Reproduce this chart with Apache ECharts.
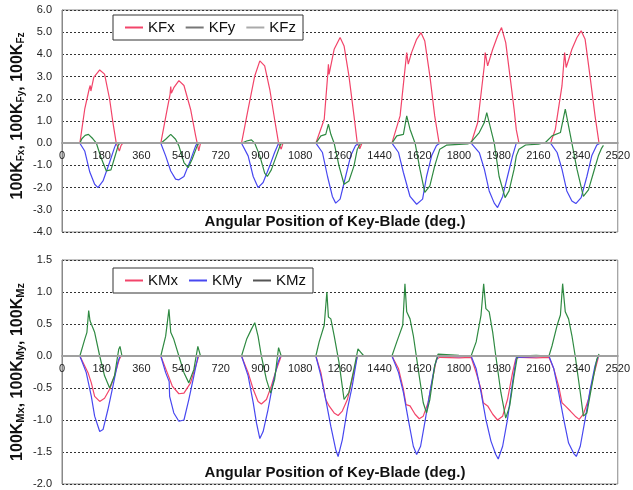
<!DOCTYPE html>
<html><head><meta charset="utf-8">
<script src="https://cdn.jsdelivr.net/npm/echarts@6/dist/echarts.min.js"></script>
<style>html,body{margin:0;padding:0;background:#fff}#c{width:633px;height:490px}</style>
</head><body><div id="c"></div>
<script>
// x ticks (deg)
const xTicks = [0,180,360,540,720,900,1080,1260,1440,1620,1800,1980,2160,2340,2520];
const topYTicks = [-4,-3,-2,-1,0,1,2,3,4,5,6];
const botYTicks = [-2,-1.5,-1,-0.5,0,0.5,1,1.5];
const topNames = ['KFx','KFy','KFz'];
const botNames = ['KMx','KMy','KMz'];

// Top chart: [deg, value]
const KFx = [[81,0],[103,1.53],[123,2.43],[128,2.6],[131,2.35],[144,2.96],[171,3.3],[193,3.11],[216,1.98],[231,0.93],[246,0],[260,-0.35],[268,-0.1],[276,0],
 [448,0],[477,1.53],[490,2.2],[493,2.55],[496,2.25],[507,2.5],[530,2.82],[553,2.6],[583,1.53],[606,0.33],[613,0],[620,-0.35],[628,0],
 [814,0],[844,1.53],[874,3.03],[897,3.71],[919,3.48],[942,2.43],[964,1.08],[982,0],[994,-0.27],[1002,0],
 [1151,0],[1189,1.08],[1205,3.1],[1208,3.55],[1211,3.1],[1234,4.23],[1261,4.76],[1279,4.38],[1301,3.03],[1324,1.23],[1339,0],[1350,-0.25],[1360,0],
 [1496,0],[1533,1.23],[1563,4.08],[1570,3.56],[1585,4.08],[1608,4.68],[1628,4.98],[1645,4.6],[1668,3.03],[1690,1.23],[1710,0],
 [1855,0],[1885,0.93],[1915,3.5],[1919,4.08],[1930,3.48],[1953,4.23],[1975,4.83],[1993,5.21],[2012,4.53],[2035,2.73],[2050,1.53],[2060,0.6],[2072,0],
 [2215,0],[2237,0.63],[2267,2.58],[2279,4.08],[2286,3.41],[2312,4.23],[2335,4.76],[2354,5.06],[2372,4.68],[2394,3.03],[2417,1.23],[2435,0]];
const KFy = [[81,0],[103,-0.35],[126,-1.3],[148,-1.85],[163,-2.0],[186,-1.7],[216,-0.86],[238,-0.2],[246,0],
 [448,0],[470,-0.57],[493,-1.25],[515,-1.62],[530,-1.65],[553,-1.5],[583,-0.75],[606,-0.12],[613,0],
 [814,0],[844,-0.57],[867,-1.5],[889,-2.0],[912,-1.77],[942,-1.02],[964,-0.42],[982,0],
 [1151,0],[1181,-0.42],[1204,-1.5],[1226,-2.4],[1241,-2.7],[1261,-2.52],[1286,-1.5],[1309,-0.57],[1331,-0.1],[1346,0],
 [1496,0],[1526,-0.42],[1548,-1.32],[1578,-2.4],[1608,-2.75],[1635,-2.52],[1653,-1.5],[1676,-0.57],[1698,-0.1],[1713,0],
 [1855,0],[1892,-0.42],[1915,-1.17],[1937,-2.15],[1960,-2.7],[1975,-2.9],[1998,-2.4],[2020,-1.5],[2043,-0.57],[2060,0],
 [2215,0],[2245,-0.42],[2267,-1.17],[2289,-2.15],[2312,-2.6],[2330,-2.72],[2354,-2.45],[2380,-1.5],[2402,-0.57],[2425,-0.08],[2440,0]];
const KFz = [[81,0],[90,0.2],[105,0.35],[120,0.4],[129,0.45],[140,0.2],[156,0],[175,-0.6],[201,-1.25],[222,-1.2],[240,-0.6],[255,-0.1],[262,0],
 [448,0],[470,0.18],[493,0.4],[515,0.18],[530,-0.12],[553,-0.87],[572,-1.1],[590,-0.72],[613,-0.12],[620,0],
 [814,0],[837,0.1],[859,0.15],[874,0],[897,-0.57],[919,-1.35],[931,-1.5],[949,-1.2],[972,-0.57],[991,-0.05],[1002,0],
 [1151,0],[1174,0.33],[1196,0.4],[1208,0.86],[1219,0.4],[1234,0],[1256,-1.02],[1279,-1.85],[1301,-1.7],[1324,-1.02],[1339,-0.27],[1354,0],
 [1496,0],[1518,0.33],[1548,0.4],[1563,1.23],[1578,0.63],[1601,0],[1623,-1.17],[1645,-2.22],[1668,-1.92],[1690,-1.02],[1713,-0.27],[1743,-0.09],[1800,-0.05],[1840,-0.03],
 [1855,0.05],[1892,0.48],[1915,0.93],[1926,1.38],[1937,0.93],[1960,0],[1982,-1.5],[2009,-2.45],[2027,-2.15],[2050,-1.17],[2060,-0.57],[2072,-0.27],[2102,-0.08],[2160,-0.04],[2192,0.03],
 [2222,0.33],[2260,0.48],[2282,1.53],[2294,0.93],[2312,0],[2335,-1.17],[2364,-2.4],[2387,-2.1],[2410,-1.32],[2432,-0.57],[2447,-0.22],[2455,-0.1]];

// Bottom chart: [deg, value]
const KMx = [[81,0],[118,-0.26],[133,-0.42],[148,-0.63],[171,-0.71],[193,-0.66],[216,-0.52],[238,-0.31],[260,-0.05],[268,0],
 [448,0],[477,-0.26],[500,-0.47],[530,-0.59],[553,-0.58],[583,-0.42],[606,-0.16],[620,0],
 [814,0],[844,-0.26],[867,-0.52],[889,-0.71],[904,-0.75],[927,-0.68],[949,-0.47],[972,-0.21],[994,0],
 [1151,0],[1174,-0.26],[1196,-0.68],[1211,-0.78],[1234,-0.89],[1252,-0.93],[1271,-0.86],[1294,-0.68],[1316,-0.36],[1339,0],
 [1496,0],[1526,-0.2],[1548,-0.52],[1560,-0.76],[1578,-0.78],[1601,-0.91],[1620,-0.98],[1638,-0.94],[1660,-0.73],[1683,-0.31],[1698,-0.05],[1713,-0.02],[1800,-0.03],
 [1855,-0.02],[1878,-0.26],[1900,-0.52],[1910,-0.73],[1930,-0.78],[1953,-0.91],[1975,-1.0],[1998,-0.94],[2020,-0.68],[2043,-0.26],[2057,-0.05],[2072,-0.02],[2150,-0.03],
 [2208,-0.02],[2230,-0.2],[2252,-0.47],[2267,-0.73],[2282,-0.78],[2305,-0.86],[2327,-0.94],[2345,-0.99],[2364,-0.91],[2387,-0.68],[2410,-0.31],[2432,-0.02]];
const KMy = [[81,0],[110,-0.26],[133,-0.63],[148,-0.94],[171,-1.18],[186,-1.15],[208,-0.84],[231,-0.47],[253,-0.1],[263,0],
 [448,0],[470,-0.26],[486,-0.4],[488,-0.63],[507,-0.89],[530,-1.02],[553,-1.0],[575,-0.68],[598,-0.31],[617,0],
 [814,0],[844,-0.31],[867,-0.73],[882,-1.05],[897,-1.29],[912,-1.18],[934,-0.84],[957,-0.42],[979,-0.1],[991,0],
 [1151,0],[1174,-0.31],[1196,-0.68],[1219,-1.1],[1241,-1.46],[1252,-1.57],[1271,-1.31],[1294,-0.83],[1316,-0.47],[1339,0],
 [1496,0],[1526,-0.26],[1548,-0.57],[1570,-0.99],[1593,-1.41],[1608,-1.54],[1626,-1.41],[1645,-1.04],[1668,-0.57],[1690,-0.15],[1705,0],[1800,-0.01],
 [1855,0],[1878,-0.2],[1900,-0.57],[1922,-0.99],[1945,-1.33],[1967,-1.54],[1978,-1.61],[1998,-1.41],[2020,-0.99],[2043,-0.41],[2060,-0.02],[2150,-0.01],
 [2208,0],[2230,-0.2],[2252,-0.57],[2275,-0.99],[2297,-1.36],[2320,-1.52],[2332,-1.57],[2350,-1.41],[2372,-0.99],[2395,-0.52],[2417,-0.15],[2432,0]];
const KMz = [[81,0],[103,0.26],[113,0.37],[121,0.71],[127,0.55],[148,0.37],[171,0],[193,-0.31],[216,-0.5],[238,-0.31],[257,0.1],[263,0.15],[272,0],
 [448,0],[470,0.31],[485,0.73],[493,0.37],[507,0.26],[530,0],[553,-0.26],[575,-0.42],[598,-0.21],[616,0.15],[628,0],
 [814,0],[837,0.26],[859,0.42],[874,0.52],[889,0.31],[904,0],[927,-0.37],[946,-0.58],[964,-0.37],[982,0.13],[994,0],
 [1151,0],[1166,0.22],[1189,0.48],[1201,1.0],[1208,0.61],[1219,0.58],[1234,0.32],[1256,-0.1],[1279,-0.68],[1301,-0.57],[1324,-0.2],[1342,0.11],[1354,0.06],[1369,0],
 [1496,0],[1518,0.22],[1545,0.48],[1555,1.13],[1563,0.69],[1578,0.58],[1593,0.32],[1615,-0.2],[1638,-0.73],[1653,-0.89],[1668,-0.68],[1690,-0.15],[1705,0.03],[1800,0.01],
 [1855,0],[1878,0.22],[1900,0.64],[1912,1.13],[1922,0.74],[1937,0.69],[1953,0.37],[1967,0],[1990,-0.57],[2012,-0.97],[2030,-0.78],[2050,-0.31],[2065,0],[2150,0.01],
 [2208,0],[2222,0.16],[2245,0.48],[2260,0.64],[2270,1.13],[2282,0.69],[2297,0.58],[2312,0.32],[2327,0],[2350,-0.57],[2364,-0.94],[2380,-0.89],[2402,-0.47],[2425,-0.05],[2435,0.03]];

const RED = '#f2456a', BLUE = '#4848f0', GREEN = '#2f8a42';
const FONT = '"Liberation Sans", Arial, sans-serif';

const GRIDS = [{top:10, height:222}, {top:260, height:224}];

function zeroOffset(gi, ticks){
  const g = GRIDS[gi], lo = ticks[0], hi = ticks[ticks.length-1];
  const fromBottom = (0 - lo) / (hi - lo) * g.height;
  return -fromBottom;
}
function xAxis(gi, ticks){
  return {gridIndex: gi, type:'value', position:'bottom', min: xTicks[0], max: xTicks[xTicks.length-1], interval: 180, z: 10,
    offset: zeroOffset(gi, ticks),
    axisLine:{onZero:false, lineStyle:{color:'#a0a0a0', width:2}},
    axisTick:{show:false}, splitLine:{show:false},
    axisLabel:{fontSize:11, color:'#222', margin:7, fontFamily:FONT, showMinLabel:true, showMaxLabel:true, formatter: v => String(v)}};
}
function yAxis(gi, ticks, step){
  return {gridIndex: gi, type:'value', min: ticks[0], max: ticks[ticks.length-1], interval: step,
    axisLine:{show:true, onZero:false, lineStyle:{color:'#888'}},
    axisTick:{show:false},
    splitLine:{show:true, lineStyle:{color:'#333', type:[2,2], width:1}},
    axisLabel:{fontSize:11, color:'#222', margin:10, fontFamily:FONT, formatter: v => v.toFixed(1)}};
}
function line(name, data, color, gi){
  return {name, type:'line', data, xAxisIndex:gi, yAxisIndex:gi, showSymbol:false, symbol:'none',
    lineStyle:{color, width:1.2}, itemStyle:{color}, animation:false, z:3};
}
function legend(gi, names, colors, top){
  return {data: names.map((n,i)=>({name:n, itemStyle:{color:colors[i]}})), left:113, top:top, orient:'horizontal',
    icon:'rect', itemWidth:18, itemHeight:2, itemGap:11, padding:[5,7,5,12],
    borderColor:'#333', borderWidth:1, backgroundColor:'#fff',
    textStyle:{fontSize:15, color:'#111', fontFamily:FONT}};
}
const subRich = (size) => ({
  b:{font:'bold 16px '+FONT, fill:'#111', verticalAlign:'bottom', lineHeight:18},
  s:{font:'bold '+size+'px '+FONT, fill:'#111', verticalAlign:'bottom', lineHeight:12}
});

const chart = echarts.init(document.getElementById('c'), null, {renderer:'canvas'});
chart.setOption({
  animation:false,
  backgroundColor:'#fff',
  grid:[
    {left:62, right:10, top:GRIDS[0].top, height:GRIDS[0].height, show:true, borderColor:'#888', borderWidth:1, backgroundColor:'transparent'},
    {left:62, right:10, top:GRIDS[1].top, height:GRIDS[1].height, show:true, borderColor:'#888', borderWidth:1, backgroundColor:'transparent'}
  ],
  xAxis:[xAxis(0, topYTicks), xAxis(1, botYTicks)],
  yAxis:[yAxis(0, topYTicks, 1), yAxis(1, botYTicks, 0.5)],
  legend:[legend(0, topNames, [RED,'#777','#aaa'], 15), legend(1, botNames, [RED,BLUE,'#555'], 268)],
  series:[
    line(topNames[0], KFx, RED, 0), line(topNames[1], KFy, BLUE, 0), line(topNames[2], KFz, GREEN, 0),
    line(botNames[0], KMx, RED, 1), line(botNames[1], KMy, BLUE, 1), line(botNames[2], KMz, GREEN, 1)
  ],
  graphic:[
    {type:'text', x:335, y:222, z:20, style:{text:'Angular Position of Key-Blade (deg.)', font:'bold 15px '+FONT, fill:'#111', align:'center', verticalAlign:'middle'}},
    {type:'text', x:335, y:473, z:20, style:{text:'Angular Position of Key-Blade (deg.)', font:'bold 15px '+FONT, fill:'#111', align:'center', verticalAlign:'middle'}},
    {type:'text', x:17, y:116, rotation:Math.PI/2, z:20, style:{
      text:'{b|100K}{s|Fx}{b|, 100K}{s|Fy}{b|, 100K}{s|Fz}', align:'center', verticalAlign:'middle', rich:subRich(10)}},
    {type:'text', x:17, y:372, rotation:Math.PI/2, z:20, style:{
      text:'{b|100K}{s|Mx}{b|, 100K}{s|My}{b|, 100K}{s|Mz}', align:'center', verticalAlign:'middle', rich:subRich(11)}}
  ]
});
</script></body></html>
